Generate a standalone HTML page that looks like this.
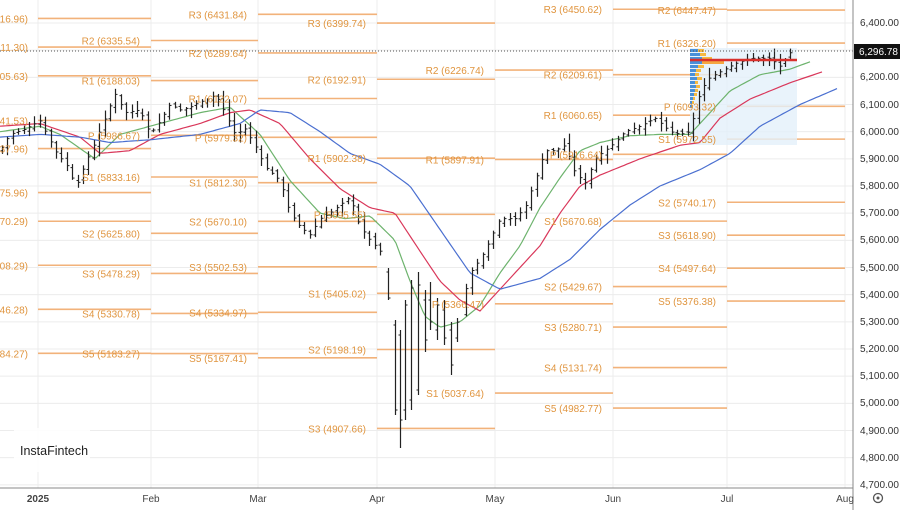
<!DOCTYPE html>
<html><head><meta charset="utf-8"><style>
body{margin:0;background:#fff;width:900px;height:510px;overflow:hidden;font-family:"Liberation Sans",sans-serif}
svg{display:block}
.pl{font-size:10px;fill:#e0953f;text-anchor:end}
.ax{font-size:10px;fill:#333}
.mo{font-size:10px;fill:#444;text-anchor:middle}
</style></head><body>
<svg id="s" width="900" height="510" viewBox="0 0 900 510">
<rect width="900" height="510" fill="#fff"/>
<g id="grid"></g>
<g id="lines"></g>
<rect x="690" y="48" width="107" height="97" fill="#e4f0fa" opacity="0.8"/>
<g id="vp"></g>
<g id="ma"></g>
<g id="bars"></g>
<line x1="690" y1="60" x2="797" y2="60" stroke="#d9302c" stroke-width="2.5"/>
<line x1="0" y1="51" x2="853" y2="51" stroke="#555" stroke-width="1" stroke-dasharray="1,2"/>
<g id="labels">
<g class="seg"><text class="pl">6416.96)</text><text class="pl">6311.30)</text><text class="pl">6205.63)</text><text class="pl">6041.53)</text><text class="pl">5937.96)</text><text class="pl">5775.96)</text><text class="pl">5670.29)</text><text class="pl">5508.29)</text><text class="pl">5346.28)</text><text class="pl">5184.27)</text></g>
<g class="seg"><text class="pl">R2 (6335.54)</text><text class="pl">R1 (6188.03)</text><text class="pl">P (5986.67)</text><text class="pl">S1 (5833.16)</text><text class="pl">S2 (5625.80)</text><text class="pl">S3 (5478.29)</text><text class="pl">S4 (5330.78)</text><text class="pl">S5 (5183.27)</text></g>
<g class="seg"><text class="pl">R3 (6431.84)</text><text class="pl">R2 (6289.64)</text><text class="pl">R1 (6122.07)</text><text class="pl">P (5979.32)</text><text class="pl">S1 (5812.30)</text><text class="pl">S2 (5670.10)</text><text class="pl">S3 (5502.53)</text><text class="pl">S4 (5334.97)</text><text class="pl">S5 (5167.41)</text></g>
<g class="seg"><text class="pl">R3 (6399.74)</text><text class="pl">R2 (6192.91)</text><text class="pl">R1 (5902.38)</text><text class="pl">P (5695.55)</text><text class="pl">S1 (5405.02)</text><text class="pl">S2 (5198.19)</text><text class="pl">S3 (4907.66)</text></g>
<g class="seg"><text class="pl">R2 (6226.74)</text><text class="pl">R1 (5897.91)</text><text class="pl">P (5366.47)</text><text class="pl">S1 (5037.64)</text></g>
<g class="seg"><text class="pl">R3 (6450.62)</text><text class="pl">R2 (6209.61)</text><text class="pl">R1 (6060.65)</text><text class="pl">P (5916.64)</text><text class="pl">S1 (5670.68)</text><text class="pl">S2 (5429.67)</text><text class="pl">S3 (5280.71)</text><text class="pl">S4 (5131.74)</text><text class="pl">S5 (4982.77)</text></g>
<g class="seg"><text class="pl">R2 (6447.47)</text><text class="pl">R1 (6326.20)</text><text class="pl">P (6093.32)</text><text class="pl">S1 (5972.55)</text><text class="pl">S2 (5740.17)</text><text class="pl">S3 (5618.90)</text><text class="pl">S4 (5497.64)</text><text class="pl">S5 (5376.38)</text></g>
</g>
<line x1="853" y1="0" x2="853" y2="510" stroke="#888" stroke-width="1"/>
<line x1="0" y1="488" x2="853" y2="488" stroke="#888" stroke-width="1"/>
<g id="axis">
<text class="ax" x="860" y="26">6,400.00</text><text class="ax" x="860" y="53">6,300.00</text>
<text class="ax" x="860" y="80">6,200.00</text><text class="ax" x="860" y="108">6,100.00</text>
<text class="ax" x="860" y="135">6,000.00</text><text class="ax" x="860" y="162">5,900.00</text>
<text class="ax" x="860" y="189">5,800.00</text><text class="ax" x="860" y="216">5,700.00</text>
<text class="ax" x="860" y="243">5,600.00</text><text class="ax" x="860" y="271">5,500.00</text>
<text class="ax" x="860" y="298">5,400.00</text><text class="ax" x="860" y="325">5,300.00</text>
<text class="ax" x="860" y="352">5,200.00</text><text class="ax" x="860" y="379">5,100.00</text>
<text class="ax" x="860" y="406">5,000.00</text><text class="ax" x="860" y="434">4,900.00</text>
<text class="ax" x="860" y="461">4,800.00</text><text class="ax" x="860" y="488">4,700.00</text>
</g>
<rect x="854" y="44" width="46" height="15" fill="#111"/>
<text x="859" y="55" style="font-size:10px;fill:#fff">6,296.78</text>
<text class="mo" x="38" y="502" style="font-weight:bold">2025</text>
<text class="mo" x="151" y="502">Feb</text><text class="mo" x="258" y="502">Mar</text>
<text class="mo" x="377" y="502">Apr</text><text class="mo" x="495" y="502">May</text>
<text class="mo" x="613" y="502">Jun</text><text class="mo" x="727" y="502">Jul</text>
<text class="mo" x="845" y="502">Aug</text>
<circle cx="878" cy="498" r="4.5" fill="none" stroke="#555" stroke-width="1.3"/><circle cx="878" cy="498" r="1.5" fill="#555"/>
<rect x="14" y="428" width="76" height="44" fill="#fff" opacity="0.9"/>
<text x="20" y="455" style="font-size:12.5px;fill:#222">InstaFintech</text>
</svg>
<script>
var NS="http://www.w3.org/2000/svg";
function Y(v){return 23+(6400-v)*0.27167;}
function V2(y){return 6400-(y-23)/0.27167;}
function el(p,t,a){var e=document.createElementNS(NS,t);for(var k in a)e.setAttribute(k,a[k]);p.appendChild(e);return e;}
var g=document.getElementById('grid');
for(var v=4700;v<=6400;v+=100)el(g,'line',{x1:0,x2:853,y1:Y(v),y2:Y(v),stroke:'#ececec'});
[38,151,258,377,495,613,727,845].forEach(function(x){el(g,'line',{x1:x,x2:x,y1:0,y2:488,stroke:'#ececec'});});
var starts=[38,151,258,377,495,613,727],ends=[151,258,377,495,613,727,845];
var L=document.getElementById('lines');
var segs=document.querySelectorAll('.seg');
segs.forEach(function(s,i){
  var xe= i==0?28:starts[i]-11;
  s.querySelectorAll('text').forEach(function(t){
    var m=t.textContent.match(/([0-9]+\.[0-9]+)/);var v=parseFloat(m[1]);
    if(i==0&&v<1000)v+=6000;
    var y=Y(v);
    t.setAttribute('x',xe);t.setAttribute('y',y+4);
    el(L,'line',{x1:starts[i],x2:ends[i],y1:y,y2:y,stroke:'#f2b27a','stroke-width':1.6});
  });
});
function interp(pts,x){for(var i=0;i<pts.length-1;i++){if(x<=pts[i+1][0]){var a=pts[i],b=pts[i+1];return a[1]+(b[1]-a[1])*(x-a[0])/(b[0]-a[0]);}}return pts[pts.length-1][1];}
var P=[[0,5930],[10,5990],[25,6010],[40,6040],[55,5930],[70,5860],[75,5790],[85,5880],[95,5960],[105,6050],[115,6140],[125,6070],[140,6080],[150,5990],[160,6040],[170,6100],[180,6080],[190,6090],[200,6110],[210,6120],[215,6140],[225,6070],[235,5990],[245,6010],[255,5950],[265,5870],[280,5820],[290,5700],[300,5650],[310,5620],[320,5680],[330,5700],[340,5730],[350,5760],[360,5650],[370,5600],[380,5560],[388,5400],[395,5150],[400,4950],[408,5250],[418,5300],[425,5250],[435,5380],[445,5300],[452,5200],[460,5320],[470,5480],[480,5530],[490,5600],[500,5680],[515,5680],[525,5720],[535,5820],[545,5930],[555,5930],[565,5950],[575,5850],[585,5810],[595,5900],[605,5930],[615,5960],[625,6000],[640,6020],[655,6050],[670,6000],[680,5990],[690,6000],[700,6150],[710,6200],[720,6220],[735,6250],[750,6270],[770,6270],[780,6240],[790,6290],[795,6296]];
var seed=7;function rnd(){seed=(seed*9301+49297)%233280;return seed/233280;}
var B=document.getElementById('bars');var prev=interp(P,0);
function bar(xs,h,l,o,c){
  el(B,'line',{x1:xs,x2:xs,y1:Y(h),y2:Y(l),stroke:'#222','stroke-width':1.2});
  el(B,'line',{x1:xs-2,x2:xs,y1:Y(o),y2:Y(o),stroke:'#222','stroke-width':1});
  el(B,'line',{x1:xs,x2:xs+2,y1:Y(c),y2:Y(c),stroke:'#222','stroke-width':1});
}
for(var x=2;x<=795;x+=5.4){
  var c=interp(P,x),o=prev+(rnd()-0.5)*20;
  var rng=20+rnd()*45;
  var h=Math.max(o,c)+rng*rnd()*0.6+5,l=Math.min(o,c)-rng*rnd()*0.6-5;
  prev=c;
  if(x>384&&x<462)continue;
  bar(Math.round(x)+0.5,h,l,o,c);
}
// April hand-drawn bars [x, yTop, yBottom, yOpen, yClose]
[[388,268,300,272,298],[395,320,415,325,410],[400,330,448,335,420],[405,300,420,410,305],[411,280,410,400,288],[418,272,395,390,285],[425,290,352,300,340],[430,282,330,300,322],[437,298,340,330,305],[444,300,345,310,338],[451,322,375,330,365],[457,318,342,338,322]].forEach(function(b){
  bar(b[0]+0.5,V2(b[1]),V2(b[2]),V2(b[3]),V2(b[4]));
});
function path(pts,col){var d='';for(var x=pts[0][0];x<=pts[pts.length-1][0];x+=3)d+=(d?'L':'M')+x+','+Y(interp(pts,x)).toFixed(1);el(document.getElementById('ma'),'path',{d:d,fill:'none',stroke:col,'stroke-width':1.2});}
path([[0,6000],[40,6020],[60,5990],[95,5900],[120,5990],[150,6020],[200,6070],[230,6090],[260,5990],[290,5820],[320,5700],[345,5680],[370,5690],[395,5600],[410,5450],[425,5320],[440,5280],[460,5300],[480,5360],[500,5480],[520,5580],[540,5720],[560,5830],[580,5930],[600,5960],[630,5985],[660,5990],[690,5990],[710,6070],[730,6150],[760,6210],[790,6230],[812,6260]],'#6db36d');
path([[0,6020],[40,6030],[80,5980],[100,5920],[130,5930],[160,5990],[200,6030],[230,6070],[250,6080],[280,6030],[310,5900],[340,5790],[370,5720],[395,5700],[420,5560],[440,5450],[460,5380],[480,5340],[500,5420],[520,5500],[540,5580],[560,5700],[580,5800],[600,5840],[640,5900],[680,5950],[700,5960],[720,6050],[750,6120],[790,6180],[822,6220]],'#d9375a');
path([[0,5980],[40,5990],[80,5980],[110,5960],[150,5970],[200,5990],[240,6030],[260,6080],[290,6070],[320,6000],[350,5920],[380,5880],[410,5800],[440,5640],[470,5480],[500,5420],[520,5440],[540,5460],[570,5530],[600,5640],[630,5730],[660,5800],[700,5860],[730,5920],[760,6020],[800,6100],[838,6160]],'#4a6fd0');
var V=document.getElementById('vp');
var vb=[[49,8,6],[53,10,6],[57,12,10],[61,12,14],[65,8,6],[69,6,5],[73,5,4],[77,7,5],[81,5,3],[85,6,4],[89,5,3],[93,4,3],[97,3,2],[101,2,2],[105,2,1]];
vb.forEach(function(b){el(V,'rect',{x:690,y:b[0],width:b[1],height:3,fill:'#4a90d9'});el(V,'rect',{x:690+b[1],y:b[0],width:b[2],height:3,fill:'#f5b942'});});
el(V,'rect',{x:702,y:61,width:22,height:3,fill:'#f5a742'});
</script>
</body></html>
